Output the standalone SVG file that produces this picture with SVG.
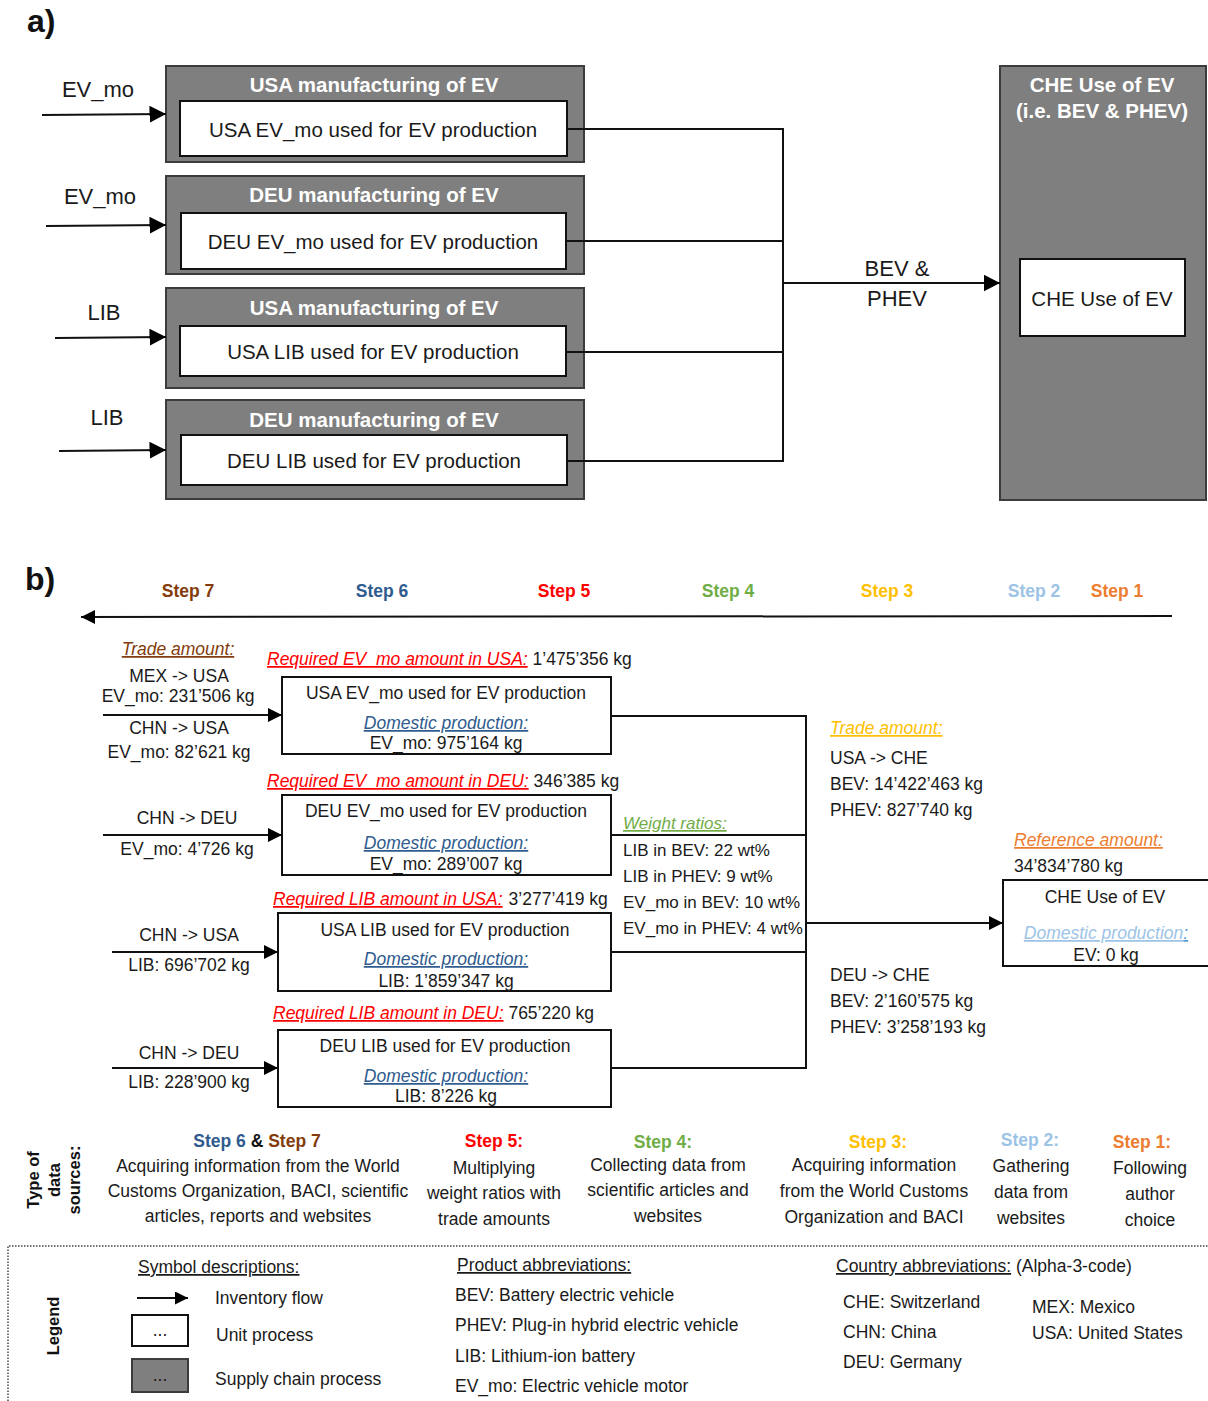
<svg xmlns="http://www.w3.org/2000/svg" width="1208" height="1401" viewBox="0 0 1208 1401">
  <defs>
    <style>
      text { font-family: "Liberation Sans", Arial, sans-serif; fill: #1a1a1a; }
      .lbl { font-weight: bold; font-size: 32px; fill: #111; }
      .hdr { font-weight: bold; font-size: 20.5px; fill: #fff; text-anchor: middle; }
      .ta { font-size: 20.5px; text-anchor: middle; }
      .in { font-size: 22px; text-anchor: middle; }
      .t { font-size: 17.5px; }
      .tm { font-size: 17.5px; text-anchor: middle; }
      .wr { font-size: 17px; }
      .step { font-weight: bold; font-size: 17.5px; text-anchor: middle; }
      .it { font-style: italic; text-decoration: underline; }
      .u { text-decoration: underline; }
      .rot { font-weight: bold; font-size: 16.5px; text-anchor: middle; fill: #111; }
      .sc { fill: #7f7f7f; stroke: #3c3c3c; stroke-width: 2; }
      .up { fill: #fff; stroke: #111; stroke-width: 2; }
      .cn { fill: none; stroke: #111; stroke-width: 2; }
      .s7 { fill: #843c0c; }
      .s6 { fill: #2f5b8e; }
      .s5 { fill: #ff0000; }
      .s4 { fill: #70ad47; }
      .s3 { fill: #ffc000; }
      .s2 { fill: #9dc3e6; }
      .s1 { fill: #ed7d31; }
      .dom { fill: #2f5b8e; }
    </style>
    <marker id="headA" markerUnits="userSpaceOnUse" markerWidth="17" markerHeight="18" refX="16.5" refY="8.5" orient="auto">
      <path d="M0,0 L16.5,8.5 L0,17 Z" fill="#000"/>
    </marker>
    <marker id="headB" markerUnits="userSpaceOnUse" markerWidth="15" markerHeight="15" refX="14" refY="7" orient="auto">
      <path d="M0,0 L14,7 L0,14 Z" fill="#000"/>
    </marker>
    <marker id="headS" markerUnits="userSpaceOnUse" markerWidth="14" markerHeight="14" refX="13" refY="6.5" orient="auto">
      <path d="M0,0 L13,6.5 L0,13 Z" fill="#000"/>
    </marker>
  </defs>

  <rect x="0" y="0" width="1208" height="1401" fill="#fff"/>

  <!-- ===== Panel a) supply chain overview ===== -->
  <text class="lbl" x="27" y="32">a)</text>

  <g id="a-usa-evmo">
    <rect class="sc" x="166" y="66" width="418" height="96"/>
    <text class="hdr" x="374" y="92">USA manufacturing of EV</text>
    <rect class="up" x="180" y="101" width="387" height="55"/>
    <text class="ta" x="373" y="137">USA EV_mo used for EV production</text>
  </g>

  <g id="a-deu-evmo">
    <rect class="sc" x="166" y="176" width="418" height="98"/>
    <text class="hdr" x="374" y="202">DEU manufacturing of EV</text>
    <rect class="up" x="181" y="213" width="385" height="56"/>
    <text class="ta" x="373" y="249">DEU EV_mo used for EV production</text>
  </g>

  <g id="a-usa-lib">
    <rect class="sc" x="166" y="288" width="418" height="100"/>
    <text class="hdr" x="374" y="315">USA manufacturing of EV</text>
    <rect class="up" x="180" y="326" width="386" height="50"/>
    <text class="ta" x="373" y="359">USA LIB used for EV production</text>
  </g>

  <g id="a-deu-lib">
    <rect class="sc" x="166" y="400" width="418" height="99"/>
    <text class="hdr" x="374" y="427">DEU manufacturing of EV</text>
    <rect class="up" x="181" y="435" width="386" height="50"/>
    <text class="ta" x="374" y="468">DEU LIB used for EV production</text>
  </g>

  <g id="a-che-use">
    <rect class="sc" x="1000" y="66" width="206" height="434"/>
    <text class="hdr" x="1102" y="92">CHE Use of EV</text>
    <text class="hdr" x="1102" y="118">(i.e. BEV &amp; PHEV)</text>
    <rect class="up" x="1020" y="259" width="165" height="77"/>
    <text class="ta" x="1102" y="306">CHE Use of EV</text>
  </g>

  <g id="a-connectors">
    <line class="cn" x1="42" y1="115" x2="166" y2="114" marker-end="url(#headA)"/>
    <line class="cn" x1="46" y1="226" x2="166" y2="225" marker-end="url(#headA)"/>
    <line class="cn" x1="55" y1="338" x2="166" y2="337" marker-end="url(#headA)"/>
    <line class="cn" x1="59" y1="451" x2="166" y2="450" marker-end="url(#headA)"/>
    <text class="in" x="98" y="97">EV_mo</text>
    <text class="in" x="100" y="204">EV_mo</text>
    <text class="in" x="104" y="320">LIB</text>
    <text class="in" x="107" y="425">LIB</text>
    <path class="cn" stroke-width="1.8" d="M567,129 H783 V461 H567"/>
    <line class="cn" stroke-width="1.8" x1="566" y1="241" x2="783" y2="241"/>
    <line class="cn" stroke-width="1.8" x1="566" y1="352" x2="783" y2="352"/>
    <line class="cn" stroke-width="2.5" x1="783" y1="283" x2="1000" y2="283" marker-end="url(#headA)"/>
    <text class="in" x="897" y="276">BEV &amp;</text>
    <text class="in" x="897" y="306">PHEV</text>
  </g>

  <!-- ===== Panel b) calculation steps ===== -->
  <text class="lbl" x="25" y="590">b)</text>

  <g id="b-steps">
    <text class="step s7" x="188" y="597">Step 7</text>
    <text class="step s6" x="382" y="597">Step 6</text>
    <text class="step s5" x="564" y="597">Step 5</text>
    <text class="step s4" x="728" y="597">Step 4</text>
    <text class="step s3" x="887" y="597">Step 3</text>
    <text class="step s2" x="1034" y="597">Step 2</text>
    <text class="step s1" x="1117" y="597">Step 1</text>
    <line class="cn" x1="1172" y1="616" x2="81" y2="617" marker-end="url(#headB)"/>
  </g>

  <g id="b-trade-in">
    <text class="tm it s7" x="178" y="655">Trade amount:</text>
    <text class="tm" x="179" y="682">MEX -&gt; USA</text>
    <text class="tm" x="178" y="702">EV_mo: 231’506 kg</text>
    <text class="tm" x="179" y="734">CHN -&gt; USA</text>
    <text class="tm" x="179" y="758">EV_mo: 82’621 kg</text>
    <text class="tm" x="187" y="824">CHN -&gt; DEU</text>
    <text class="tm" x="187" y="855">EV_mo: 4’726 kg</text>
    <text class="tm" x="189" y="941">CHN -&gt; USA</text>
    <text class="tm" x="189" y="971">LIB: 696’702 kg</text>
    <text class="tm" x="189" y="1059">CHN -&gt; DEU</text>
    <text class="tm" x="189" y="1088">LIB: 228’900 kg</text>
  </g>

  <g id="b-usa-evmo">
    <text class="t" x="267" y="665"><tspan class="it s5">Required EV_mo amount in USA:</tspan><tspan> 1’475’356 kg</tspan></text>
    <rect class="up" x="300" y="713" width="293" height="41"/>
    <rect class="up" x="282" y="677" width="329" height="77" fill="none"/>
    <text class="tm" x="446" y="699">USA EV_mo used for EV production</text>
    <text class="tm it dom" x="446" y="729">Domestic production:</text>
    <text class="tm" x="446" y="749">EV_mo: 975’164 kg</text>
  </g>

  <g id="b-deu-evmo">
    <text class="t" x="267" y="787"><tspan class="it s5">Required EV_mo amount in DEU:</tspan><tspan> 346’385 kg</tspan></text>
    <rect class="up" x="300" y="831" width="293" height="44"/>
    <rect class="up" x="282" y="795" width="329" height="80" fill="none"/>
    <text class="tm" x="446" y="817">DEU EV_mo used for EV production</text>
    <text class="tm it dom" x="446" y="849">Domestic production:</text>
    <text class="tm" x="446" y="870">EV_mo: 289’007 kg</text>
  </g>

  <g id="b-usa-lib">
    <text class="t" x="273" y="905"><tspan class="it s5">Required LIB amount in USA:</tspan><tspan dx="6">3’277’419 kg</tspan></text>
    <rect class="up" x="300" y="948" width="293" height="43"/>
    <rect class="up" x="278" y="913" width="333" height="78" fill="none"/>
    <text class="tm" x="445" y="936">USA LIB used for EV production</text>
    <text class="tm it dom" x="446" y="965">Domestic production:</text>
    <text class="tm" x="446" y="987">LIB: 1’859’347 kg</text>
  </g>

  <g id="b-deu-lib">
    <text class="t" x="273" y="1019"><tspan class="it s5">Required LIB amount in DEU:</tspan><tspan> 765’220 kg</tspan></text>
    <rect class="up" x="300" y="1065" width="293" height="42"/>
    <rect class="up" x="278" y="1030" width="333" height="77" fill="none"/>
    <text class="tm" x="445" y="1052">DEU LIB used for EV production</text>
    <text class="tm it dom" x="446" y="1082">Domestic production:</text>
    <text class="tm" x="446" y="1102">LIB: 8’226 kg</text>
  </g>

  <g id="b-weight-ratios">
    <text class="wr it s4" x="623" y="829">Weight ratios:</text>
    <text class="wr" x="623" y="856">LIB in BEV: 22 wt%</text>
    <text class="wr" x="623" y="882">LIB in PHEV: 9 wt%</text>
    <text class="wr" x="623" y="908">EV_mo in BEV: 10 wt%</text>
    <text class="wr" x="623" y="934">EV_mo in PHEV: 4 wt%</text>
  </g>

  <g id="b-trade-out">
    <text class="t it s3" x="830" y="734">Trade amount:</text>
    <text class="t" x="830" y="764">USA -&gt; CHE</text>
    <text class="t" x="830" y="790">BEV: 14’422’463 kg</text>
    <text class="t" x="830" y="816">PHEV: 827’740 kg</text>
    <text class="t" x="830" y="981">DEU -&gt; CHE</text>
    <text class="t" x="830" y="1007">BEV: 2’160’575 kg</text>
    <text class="t" x="830" y="1033">PHEV: 3’258’193 kg</text>
  </g>

  <g id="b-che-use">
    <text class="t it s1" x="1014" y="846">Reference amount:</text>
    <text class="t" x="1014" y="872">34’834’780 kg</text>
    <rect class="up" x="1011" y="923" width="190" height="43"/>
    <rect class="up" x="1003" y="880" width="220" height="86" fill="none"/>
    <text class="tm" x="1105" y="903">CHE Use of EV</text>
    <text class="tm" x="1106" y="939"><tspan class="it s2">Domestic production</tspan><tspan class="it" fill="#5b9bd5">:</tspan></text>
    <text class="tm" x="1106" y="961">EV: 0 kg</text>
  </g>

  <g id="b-connectors">
    <line class="cn" x1="103" y1="715" x2="282" y2="715" marker-end="url(#headB)"/>
    <line class="cn" x1="103" y1="835" x2="282" y2="835" marker-end="url(#headB)"/>
    <line class="cn" x1="112" y1="952" x2="278" y2="952" marker-end="url(#headB)"/>
    <line class="cn" x1="112" y1="1068" x2="278" y2="1068" marker-end="url(#headB)"/>
    <path class="cn" d="M611,716 H806 V1068 H611"/>
    <line class="cn" x1="611" y1="835" x2="806" y2="835"/>
    <line class="cn" x1="611" y1="952" x2="806" y2="952"/>
    <line class="cn" stroke-width="2.5" x1="806" y1="923" x2="1003" y2="923" marker-end="url(#headB)"/>
  </g>

  <!-- ===== Data sources per step ===== -->
  <g id="data-sources">
    <g transform="translate(0,1180) rotate(-90)">
      <text class="rot" x="0" y="39">Type of</text>
      <text class="rot" x="0" y="60">data</text>
      <text class="rot" x="0" y="80">sources:</text>
    </g>
    <text class="step" x="257" y="1147"><tspan class="s6">Step 6</tspan><tspan fill="#111"> &amp; </tspan><tspan class="s7">Step 7</tspan></text>
    <text class="tm" x="258" y="1172">Acquiring information from the World</text>
    <text class="tm" x="258" y="1197">Customs Organization, BACI, scientific</text>
    <text class="tm" x="258" y="1222">articles, reports and websites</text>

    <text class="step s5" x="494" y="1147">Step 5:</text>
    <text class="tm" x="494" y="1174">Multiplying</text>
    <text class="tm" x="494" y="1199">weight ratios with</text>
    <text class="tm" x="494" y="1225">trade amounts</text>

    <text class="step s4" x="663" y="1148">Step 4:</text>
    <text class="tm" x="668" y="1171">Collecting data from</text>
    <text class="tm" x="668" y="1196">scientific articles and</text>
    <text class="tm" x="668" y="1222">websites</text>

    <text class="step s3" x="878" y="1148">Step 3:</text>
    <text class="tm" x="874" y="1171">Acquiring information</text>
    <text class="tm" x="874" y="1197">from the World Customs</text>
    <text class="tm" x="874" y="1223">Organization and BACI</text>

    <text class="step s2" x="1030" y="1146">Step 2:</text>
    <text class="tm" x="1031" y="1172">Gathering</text>
    <text class="tm" x="1031" y="1198">data from</text>
    <text class="tm" x="1031" y="1224">websites</text>

    <text class="step s1" x="1142" y="1148">Step 1:</text>
    <text class="tm" x="1150" y="1174">Following</text>
    <text class="tm" x="1150" y="1200">author</text>
    <text class="tm" x="1150" y="1226">choice</text>
  </g>

  <!-- ===== Legend ===== -->
  <g id="legend">
    <path d="M8,1401 V1246 H1208" fill="none" stroke="#444" stroke-width="1.5" stroke-dasharray="1.5 1.5"/>
    <text class="rot" font-size="17" transform="translate(59,1326) rotate(-90)">Legend</text>

    <text class="t u" x="138" y="1273">Symbol descriptions:</text>
    <line class="cn" x1="137" y1="1298" x2="188" y2="1298" marker-end="url(#headS)"/>
    <text class="t" x="215" y="1304">Inventory flow</text>
    <rect class="up" x="132" y="1315" width="56" height="31" stroke-width="1.5"/>
    <text class="tm" x="160" y="1336" font-size="12">...</text>
    <text class="t" x="216" y="1341">Unit process</text>
    <rect class="sc" x="132" y="1359" width="56" height="33" stroke-width="1.5"/>
    <text class="tm" x="160" y="1381" font-size="12" fill="#ddd">...</text>
    <text class="t" x="215" y="1385">Supply chain process</text>

    <text class="t u" x="457" y="1271">Product abbreviations:</text>
    <text class="t" x="455" y="1301">BEV: Battery electric vehicle</text>
    <text class="t" x="455" y="1331">PHEV: Plug-in hybrid electric vehicle</text>
    <text class="t" x="455" y="1362">LIB: Lithium-ion battery</text>
    <text class="t" x="455" y="1392">EV_mo: Electric vehicle motor</text>

    <text class="t" x="836" y="1272"><tspan class="u">Country abbreviations:</tspan><tspan> (Alpha-3-code)</tspan></text>
    <text class="t" x="843" y="1308">CHE: Switzerland</text>
    <text class="t" x="843" y="1338">CHN: China</text>
    <text class="t" x="843" y="1368">DEU: Germany</text>
    <text class="t" x="1032" y="1313">MEX: Mexico</text>
    <text class="t" x="1032" y="1339">USA: United States</text>
  </g>
</svg>
